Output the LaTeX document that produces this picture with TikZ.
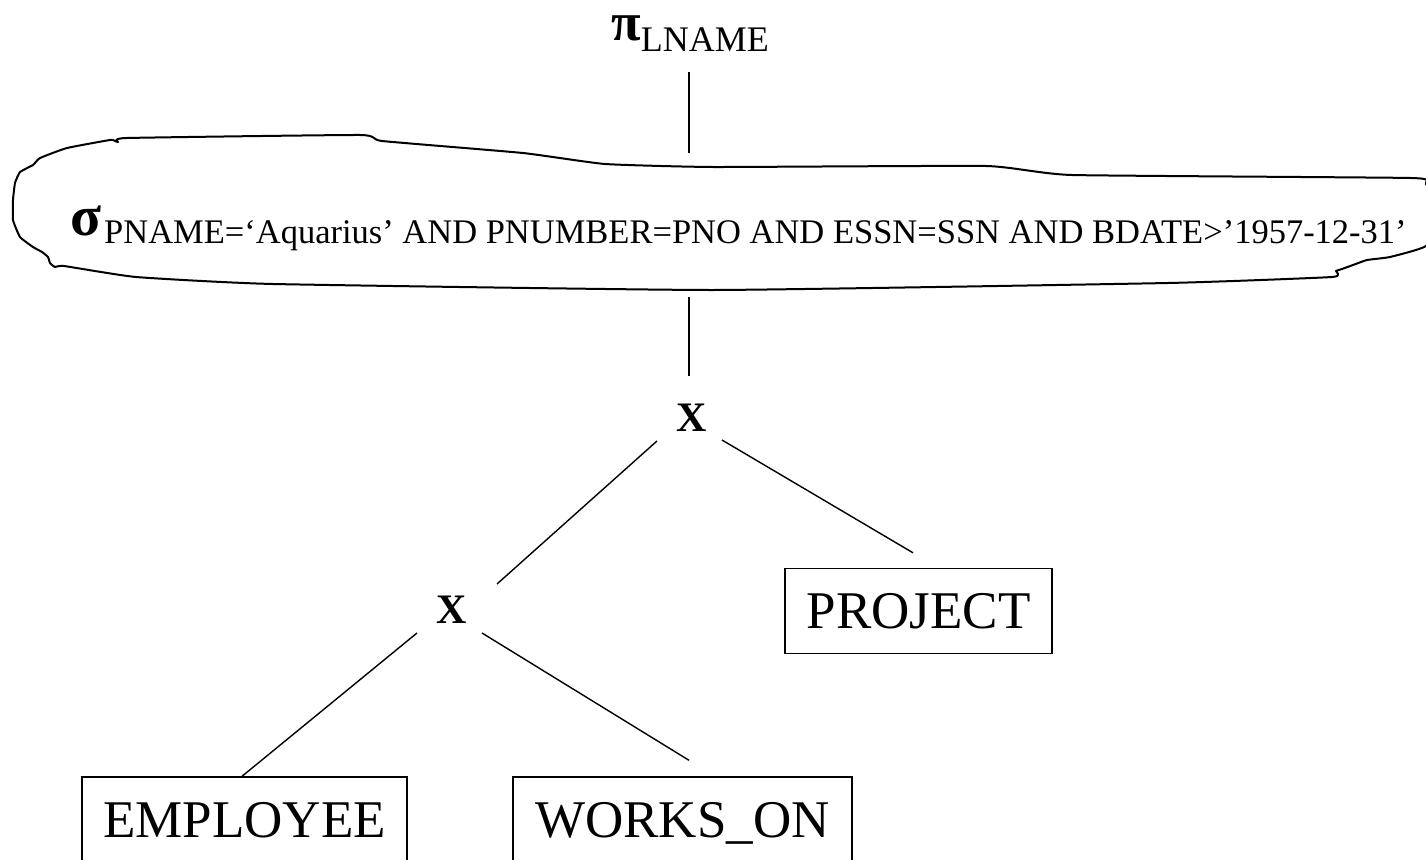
\documentclass[tikz,border=0pt]{standalone}
\usepackage{fontspec}
\setmainfont{Liberation Serif}
\usetikzlibrary{calc}

\tikzset{
  relbox/.style={draw, line width=1.4pt, inner sep=0pt, text height=35.5pt, text depth=0pt,
    minimum height=85pt, font=\fontsize{53}{60}\selectfont},
  opx/.style={inner sep=0pt, font=\fontsize{42}{50}\selectfont\bfseries},
  edge/.style={line width=1.4pt},
  outline/.style={line width=2pt, line join=round}
}

\begin{document}
\begin{tikzpicture}[x=1pt, y=-1pt]
  \useasboundingbox (0,0) rectangle (1426,859);
  \clip (0,0) rectangle (1426,859);
  \fill[white] (0,0) rectangle (1426,859);

  % projection
  \node[inner sep=0pt, anchor=base west] (pi) at (611,41)
    {{\fontsize{54}{58}\selectfont\bfseries π}{\fontsize{36}{40}\selectfont\raisebox{-11pt}{LNAME}}};

  % selection outline
  \draw[outline] plot[smooth cycle, tension=0.25] coordinates {
    (15,183) (20,172) (33,165) (40,158) (67,148) (110,140) (115,141) (118,142) (127,138)
    (360,135) (382,141) (523,153) (605,164) (713,167) (986,166) (1072,175) (1411,178)
    (1426,184) (1440,215) (1426,246) (1390,257) (1367,260) (1353,265) (1342,269)
    (1336,271) (1332,277) (1168,283) (713,290) (273,284) (136,277) (64,266) (55,267)
    (50,263) (48,257) (42,252) (33,247) (20,237) (13,220) (13,200)};
  \coordinate (blobtop) at (689,166);

  \node[inner sep=0pt, anchor=base west] (sel) at (70,235)
    {{\fontsize{57}{60}\selectfont\bfseries σ}\hspace{3pt}{\fontsize{34.5}{40}\selectfont\raisebox{-8pt}{PNAME=‘Aquarius’ AND PNUMBER=PNO AND ESSN=SSN AND BDATE>’1957-12-31’}}};

  % products
  \node[opx] (ux) at (692,418) {X};
  \node[opx] (lx) at (452,610) {X};

  % relations
  \node[relbox, minimum width=267pt] (proj) at (918.5,611) {PROJECT};
  \node[relbox, minimum width=325pt] (emp) at (244.5,819.5) {EMPLOYEE};
  \node[relbox, minimum width=339pt] (works) at (682.5,819.5) {WORKS\_ON};

  % tree edges
  \draw[edge] ($(pi.base west)+(78,31)$) -- ($(blobtop)+(0,-13)$);
  \draw[edge] ($(ux)+(-3,-121)$) -- ($(ux)+(-3,-42)$);
  \draw[edge] ($(ux)+(-35,23)$) -- ($(lx)+(45,-26)$);
  \draw[edge] ($(ux)+(30,22)$) -- ($(proj.north)+(-5.5,-15)$);
  \draw[edge] ($(lx)+(-35,23)$) -- ($(emp.north)+(-2.5,0)$);
  \draw[edge] ($(lx)+(30,23)$) -- ($(works.north)+(6.5,-16)$);
\end{tikzpicture}
\end{document}
